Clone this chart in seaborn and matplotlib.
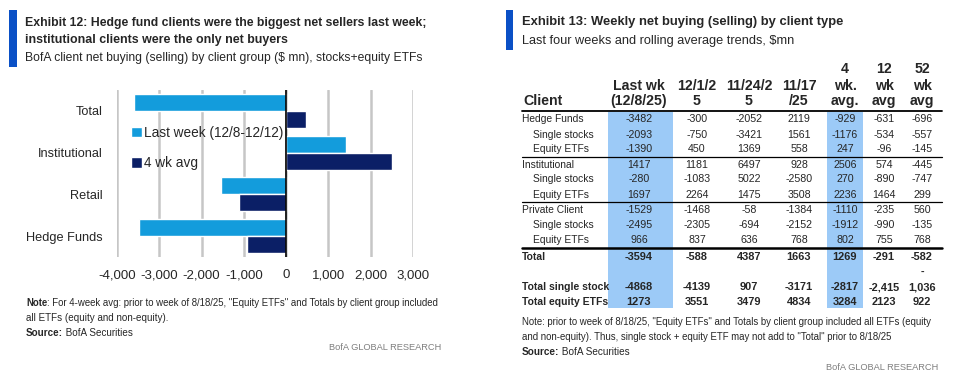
import pandas as pd
import seaborn as sns
import matplotlib.pyplot as plt
from matplotlib.patches import Rectangle

# ---- Exhibit 12 data (bar chart) ----
groups = ["Total", "Institutional", "Retail", "Hedge Funds"]
last_week = [-3594, 1417, -1529, -3482]
four_wk_avg = [460, 2506, -1110, -929]
series_names = ["Last week (12/8-12/12)", "4 wk avg"]
x_ticks = [-4000, -3000, -2000, -1000, 0, 1000, 2000, 3000]

# ---- Exhibit 13 data (table) ----
header_top = ["", "", "", "", "4", "12", "52"]
header_mid = ["Last wk", "12/1/2", "11/24/2", "11/17", "wk.", "wk", "wk"]
header_bot = ["(12/8/25)", "5", "5", "/25", "avg.", "avg", "avg"]
row_labels = ["Hedge Funds", "Single stocks", "Equity ETFs",
              "Institutional", "Single stocks", "Equity ETFs",
              "Private Client", "Single stocks", "Equity ETFs"]
row_values = [
    ["-3482", "-300", "-2052", "2119", "-929", "-631", "-696"],
    ["-2093", "-750", "-3421", "1561", "-1176", "-534", "-557"],
    ["-1390", "450", "1369", "558", "247", "-96", "-145"],
    ["1417", "1181", "6497", "928", "2506", "574", "-445"],
    ["-280", "-1083", "5022", "-2580", "270", "-890", "-747"],
    ["1697", "2264", "1475", "3508", "2236", "1464", "299"],
    ["-1529", "-1468", "-58", "-1384", "-1110", "-235", "560"],
    ["-2495", "-2305", "-694", "-2152", "-1912", "-990", "-135"],
    ["966", "837", "636", "768", "802", "755", "768"],
]
total_labels = ["Total", "", "Total single stock", "Total equity ETFs"]
total_values = [
    ["-3594", "-588", "4387", "1663", "1269", "-291", "-582"],
    ["", "", "", "", "", "", "-"],
    ["-4868", "-4139", "907", "-3171", "-2817", "-2,415", "1,036"],
    ["1273", "3551", "3479", "4834", "3284", "2123", "922"],
]

LIGHT = "#139cdc"
DARK = "#0b1f66"
ACCENT = "#0a50c6"
HILITE = "#9ccaf7"
GREY = "#7f7f7f"

sns.set_style("white")
plt.rcParams['font.family'] = ['Liberation Sans', 'DejaVu Sans']

W, H = 962, 378
fig = plt.figure(figsize=(W / 100, H / 100), dpi=100)
renderer = fig.canvas.get_renderer()

# overlay axes in pixel coordinates for titles, notes and the table
ov = fig.add_axes([0, 0, 1, 1])
ov.set_xlim(0, W)
ov.set_ylim(H, 0)
ov.axis("off")


def runs(x, y, parts, size, target=None, ha="left", **kw):
    """Draw (text, weight) pieces one after the other; optionally fit to a pixel width."""
    def widths(sz):
        out = []
        for s, wt in parts:
            t = ov.text(0, 0, s, fontsize=sz, fontweight=wt)
            out.append(t.get_window_extent(renderer).width)
            t.remove()
        return out
    if target is not None:
        size = size * target / sum(widths(size))
    ws = widths(size)
    if ha == "right":
        x = x - sum(ws)
    for (s, wt), w in zip(parts, ws):
        ov.text(x, y, s, fontsize=size, fontweight=wt, va="center", **kw)
        x += w


# ---------------- left panel ----------------
ov.add_patch(Rectangle((9, 10), 8, 57, color=ACCENT, lw=0))
runs(25, 23, [("Exhibit 12: Hedge fund clients were the biggest net sellers last week;", "bold")], 9, target=403)
runs(25, 40.5, [("institutional clients were the only net buyers", "bold")], 8.9)
runs(25, 58.5, [("BofA client net buying (selling) by client group ($ mn), stocks+equity ETFs", "normal")], 9, target=397)

df = pd.DataFrame({
    "group": groups * 2,
    "value": last_week + four_wk_avg,
    "series": [series_names[0]] * len(groups) + [series_names[1]] * len(groups),
})

ax = fig.add_axes([117 / W, 1 - 257 / H, (413 - 117) / W, (257 - 90) / H])
ax.patch.set_alpha(0)
sns.barplot(data=df, x="value", y="group", hue="series", orient="h",
            palette=[LIGHT, DARK], width=0.82, saturation=1, ax=ax)
ax.set_xlim(-4000, 3000)
ax.set_xticks(x_ticks)
ax.set_xticklabels([f"{t:,}" for t in x_ticks], fontsize=9.5)
ax.tick_params(axis="y", labelsize=9.2, length=0, pad=10)
ax.tick_params(axis="x", length=0, pad=9)
ax.set_xlabel("")
ax.set_ylabel("")
for s in ax.spines.values():
    s.set_visible(False)
ax.grid(axis="x", color="#c6c6c6", lw=1.8)
ax.set_axisbelow(True)
ax.axvline(0, color="black", lw=1.2)
handles, labels = ax.get_legend_handles_labels()
ax.legend(handles, labels, loc="upper left", bbox_to_anchor=(131 / W, 1 - 126 / H),
          bbox_transform=fig.transFigure, frameon=False, fontsize=9.8,
          handlelength=0.78, handleheight=0.78, handletextpad=0.2,
          labelspacing=1.2, borderpad=0, borderaxespad=0)

runs(26, 303, [("Note", "bold"), (": For 4-week avg: prior to week of 8/18/25, \"Equity ETFs\" and Totals by client group included", "normal")],
     7, target=414)
runs(26, 318, [("all ETFs (equity and non-equity).", "normal")], 7.1)
runs(26, 333, [("Source:", "bold"), (" BofA Securities", "normal")], 7.1)
runs(441, 348, [("BofA GLOBAL RESEARCH", "normal")], 6.7, ha="right", color=GREY)

# ---------------- right panel ----------------
ov.add_patch(Rectangle((506, 10), 7, 40, color=ACCENT, lw=0))
runs(522, 22, [("Exhibit 13: Weekly net buying (selling) by client type", "bold")], 9.5, target=325)
runs(522, 41, [("Last four weeks and rolling average trends, $mn", "normal")], 9.5, target=272)

col_x = [639, 697, 749, 799, 845, 884, 922]
ov.add_patch(Rectangle((608, 112), 65, 196, color=HILITE, lw=0))
ov.add_patch(Rectangle((827, 112), 36, 196, color=HILITE, lw=0))

hfs = 10.2
for x, t, m, b in zip(col_x, header_top, header_mid, header_bot):
    ov.text(x, 69, t, fontsize=hfs, fontweight="bold", ha="center", va="center")
    ov.text(x, 85.5, m, fontsize=hfs, fontweight="bold", ha="center", va="center")
    ov.text(x, 101, b, fontsize=hfs, fontweight="bold", ha="center", va="center")
ov.text(523, 101, "Client", fontsize=hfs, fontweight="bold", va="center")

row_y = [119.5, 134.5, 149.5, 164.5, 179.5, 194.5, 210, 225, 240]
lfs, vfs = 7.4, 7.7
for y, lab, vals in zip(row_y, row_labels, row_values):
    indent = 533 if lab in ("Single stocks", "Equity ETFs") else 522
    ov.text(indent, y, lab, fontsize=lfs, va="center")
    for x, v in zip(col_x, vals):
        ov.text(x, y, v, fontsize=vfs, ha="center", va="center")

total_y = [257, 272, 287.5, 302]
for y, lab, vals in zip(total_y, total_labels, total_values):
    ov.text(522, y, lab, fontsize=7.5, fontweight="bold", va="center")
    for x, v in zip(col_x, vals):
        ov.text(x, y, v, fontsize=7.9, fontweight="bold", ha="center", va="center")

ov.plot([522, 942], [111, 111], color="black", lw=1.3)
ov.plot([522, 942], [156.5, 156.5], color="black", lw=0.9)
ov.plot([522, 942], [202, 202], color="black", lw=0.9)
ov.plot([522, 942], [248, 248], color="black", lw=1.8)

runs(522, 322, [("Note: prior to week of 8/18/25, \"Equity ETFs\" and Totals by client group included all ETFs (equity", "normal")],
     7, target=410)
runs(522, 337, [("and non-equity). Thus, single stock + equity ETF may not add to \"Total\" prior to 8/18/25", "normal")],
     7, target=373)
runs(522, 352, [("Source:", "bold"), (" BofA Securities", "normal")], 7.2)
runs(938, 367, [("BofA GLOBAL RESEARCH", "normal")], 6.7, ha="right", color=GREY)

fig.savefig("out.png", dpi=100)
